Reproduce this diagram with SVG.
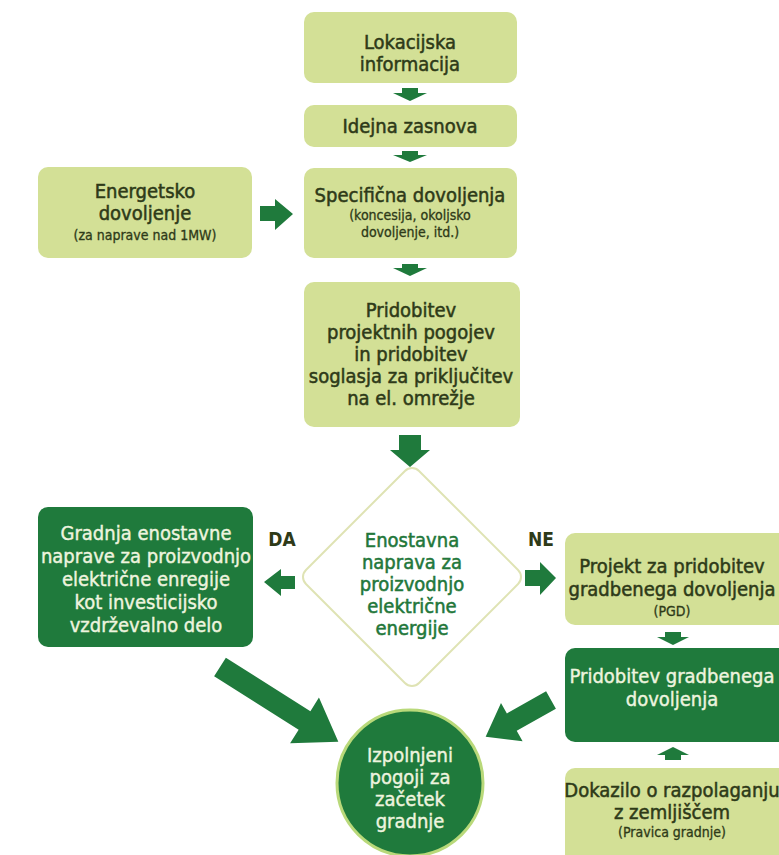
<svg xmlns="http://www.w3.org/2000/svg" width="779" height="855" viewBox="0 0 779 855">
<style>
.lt{fill:#d3e096;}
.dk{fill:#1f7a3c;}
.arr{fill:#1f7a3c;}
text{font-family:"Liberation Sans Narrow","DejaVu Sans Condensed","Liberation Sans",sans-serif;text-anchor:middle;}
.t{font-size:20px;fill:#2e3a18;stroke:#2e3a18;stroke-width:0.5px;}
.s{font-size:14px;fill:#2e3a18;stroke:#2e3a18;stroke-width:0.3px;}
.w{font-size:20px;fill:#eef4df;stroke:#eef4df;stroke-width:0.4px;}
.g{font-size:20px;fill:#22773a;stroke:#22773a;stroke-width:0.5px;}
.lab{font-size:19px;fill:#2e3a18;font-weight:bold;}
</style>
<rect width="779" height="855" fill="#ffffff"/>
<g id="n1"><rect class="lt" x="304" y="12" width="213" height="71" rx="10"/>
<text class="t" x="410" y="49">Lokacijska</text><text class="t" x="410" y="71">informacija</text></g>
<g id="n2"><rect class="lt" x="304" y="105" width="213" height="42" rx="10"/>
<text class="t" x="410" y="133">Idejna zasnova</text></g>
<g id="n3"><rect class="lt" x="304" y="168" width="213" height="90" rx="10"/>
<text class="t" x="410" y="202">Specifična dovoljenja</text>
<text class="s" x="410" y="220">(koncesija, okoljsko</text>
<text class="s" x="410" y="237">dovoljenje, itd.)</text></g>
<g id="n4"><rect class="lt" x="38" y="167" width="214" height="91" rx="10"/>
<text class="t" x="145" y="198">Energetsko</text>
<text class="t" x="145" y="220">dovoljenje</text>
<text class="s" x="145" y="240">(za naprave nad 1MW)</text></g>
<g id="n5"><rect class="lt" x="304" y="282" width="216" height="145" rx="10"/>
<text class="t" x="411" y="317">Pridobitev</text>
<text class="t" x="411" y="339">projektnih pogojev</text>
<text class="t" x="411" y="361">in pridobitev</text>
<text class="t" x="411" y="383">soglasja za priključitev</text>
<text class="t" x="411" y="405">na el. omrežje</text></g>
<g id="n6"><rect x="332" y="497" width="160" height="160" rx="10" transform="rotate(45 412 577)" fill="#ffffff" stroke="#dfe3b4" stroke-width="2"/>
<text class="g" x="412" y="547">Enostavna</text>
<text class="g" x="412" y="569">naprava za</text>
<text class="g" x="412" y="591">proizvodnjo</text>
<text class="g" x="412" y="613">električne</text>
<text class="g" x="412" y="635">energije</text></g>
<g id="n7"><rect class="dk" x="38" y="507" width="215" height="140" rx="10"/>
<text class="w" x="146" y="540">Gradnja enostavne</text>
<text class="w" x="146" y="563">naprave za proizvodnjo</text>
<text class="w" x="146" y="586">električne enregije</text>
<text class="w" x="146" y="609">kot investicijsko</text>
<text class="w" x="146" y="632">vzdrževalno delo</text></g>
<g id="n8"><rect class="lt" x="565" y="533" width="226" height="92" rx="10"/>
<text class="t" x="672" y="573">Projekt za pridobitev</text>
<text class="t" x="672" y="596">gradbenega dovoljenja</text>
<text class="s" x="672" y="616">(PGD)</text></g>
<g id="n9"><rect class="dk" x="565" y="648" width="226" height="94" rx="10"/>
<text class="w" x="672" y="683">Pridobitev gradbenega</text>
<text class="w" x="672" y="706">dovoljenja</text></g>
<g id="n10"><rect class="lt" x="565" y="768" width="226" height="100" rx="10"/>
<text class="t" x="672" y="797">Dokazilo o razpolaganju</text>
<text class="t" x="672" y="819">z zemljiščem</text>
<text class="s" x="672" y="837">(Pravica gradnje)</text></g>
<g id="n11"><circle cx="410" cy="783" r="73" fill="#1f7a3c" stroke="#b9d97a" stroke-width="3"/>
<text class="w" x="410" y="762">Izpolnjeni</text>
<text class="w" x="410" y="784">pogoji za</text>
<text class="w" x="410" y="806">začetek</text>
<text class="w" x="410" y="828">gradnje</text></g>
<g id="labels">
<text class="lab" x="282" y="546">DA</text>
<text class="lab" x="541" y="546">NE</text>
</g>
<g id="connectors">
<polygon class="arr" points="402,88 418,88 418,93 427,93 410,101 393,93 402,93"/>
<polygon class="arr" points="402,151 418,151 418,155 427,155 410,162 393,155 402,155"/>
<polygon class="arr" points="402,264 418,264 418,268 427,268 410,276 393,268 402,268"/>
<polygon class="arr" points="399,435 421,435 421,450 430,450 410,467 390,450 399,450"/>
<polygon class="arr" points="260,206 275,206 275,199 293,214 275,230 275,221 260,221"/>
<polygon class="arr" points="295,576 281,576 281,569 264,582 281,596 281,589 295,589"/>
<polygon class="arr" points="525,570 540,570 540,562 556,578 540,595 540,586 525,586"/>
<polygon class="arr" points="665,632 681,632 681,637 689,637 673,645 657,637 665,637"/>
<polygon class="arr" points="665,760 681,760 681,755 689,755 673,747 657,755 665,755"/>
<polygon class="arr" points="0,-11 100,-11 100,-27 140,0 100,27 100,11 0,11" transform="translate(220,667) rotate(32.3)"/>
<polygon class="arr" points="0,-10 45,-10 45,-22 75,0 45,22 45,10 0,10" transform="translate(551,700) rotate(150.6)"/>
</g>
</svg>
